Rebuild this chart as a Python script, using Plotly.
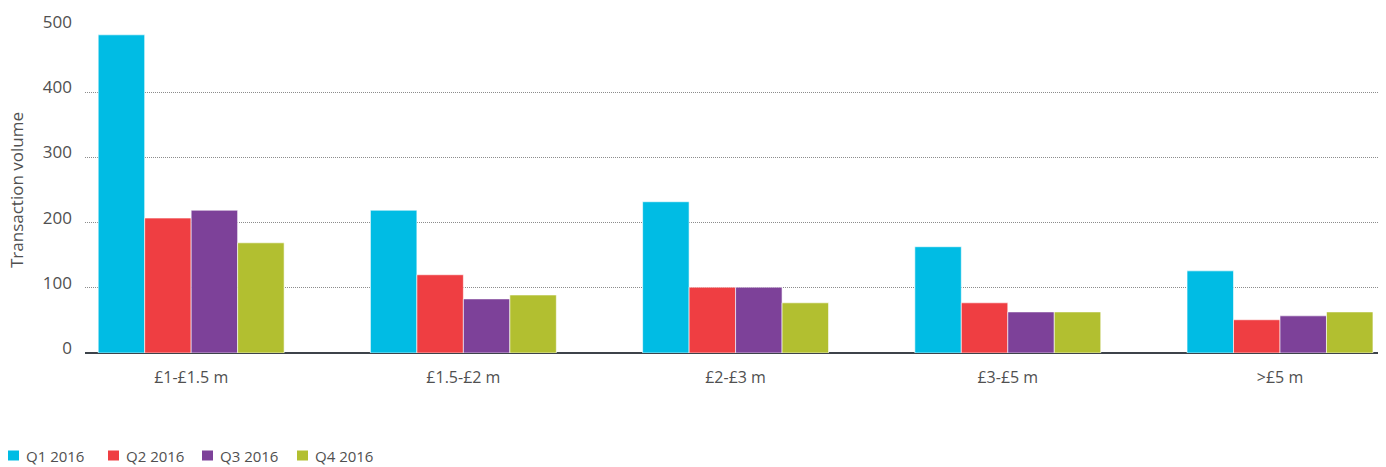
import plotly.graph_objects as go

# Price bands and quarterly transaction volumes
categories = ["£1-£1.5 m", "£1.5-£2 m", "£2-£3 m", "£3-£5 m", ">£5 m"]
q1_2016 = [488, 219, 232, 163, 126]
q2_2016 = [207, 120, 101, 77, 51]
q3_2016 = [219, 83, 101, 63, 57]
q4_2016 = [169, 89, 77, 63, 63]
series_names = ["Q1 2016", "Q2 2016", "Q3 2016", "Q4 2016"]
y_ticks = [0, 100, 200, 300, 400, 500]

colors = ["#00BCE4", "#EF3E42", "#7D4199", "#B2BF30"]
font_family = "Open Sans, Noto Sans, sans-serif"
text_color = "#505050"

W, H = 1386, 467
M_L, M_R, M_T, M_B = 85, 8, 27, 114
plot_w = W - M_L - M_R
plot_h = H - M_T - M_B


def px_to_paper_x(px):
    return (px - M_L) / plot_w


def px_to_paper_y(py):
    return (H - M_B - py) / plot_h


fig = go.Figure()
for name, values, color in zip(series_names, [q1_2016, q2_2016, q3_2016, q4_2016], colors):
    fig.add_trace(go.Bar(
        x=categories,
        y=values,
        name=name,
        showlegend=False,
        marker=dict(color=color, line=dict(color="rgba(255,255,255,0.6)", width=1)),
    ))

# Legend row along the bottom edge: colour swatch followed by the series name
legend_left = [8, 108, 202, 297]
legend_y = 455.5
for left, name, color in zip(legend_left, series_names, colors):
    fig.add_shape(
        type="rect",
        xref="paper", yref="paper",
        x0=px_to_paper_x(left), x1=px_to_paper_x(left + 11),
        y0=px_to_paper_y(legend_y - 5), y1=px_to_paper_y(legend_y + 5),
        fillcolor=color, line=dict(width=0),
    )
    fig.add_annotation(
        xref="paper", yref="paper",
        x=px_to_paper_x(left + 16), y=px_to_paper_y(legend_y),
        xanchor="left", yanchor="middle",
        text=name, showarrow=False,
        font=dict(size=15, color=text_color),
    )

fig.update_layout(
    width=W,
    height=H,
    barmode="group",
    bargap=0.317,
    bargroupgap=0,
    plot_bgcolor="white",
    paper_bgcolor="white",
    margin=dict(l=M_L, r=M_R, t=M_T, b=M_B, autoexpand=False),
    font=dict(family=font_family, size=16, color=text_color),
    showlegend=False,
    xaxis=dict(
        type="category",
        range=[-0.39, 4.36],
        showgrid=False,
        ticks="",
        showline=False,
        tickfont=dict(size=16, color=text_color),
        ticklabelstandoff=13,
    ),
    yaxis=dict(
        range=[0, 500],
        tickvals=y_ticks,
        showgrid=True,
        gridcolor="#8c8c8c",
        gridwidth=1,
        griddash="1px,1px",
        zeroline=True,
        zerolinecolor="#3d434a",
        zerolinewidth=2,
        showline=False,
        ticks="",
        ticklabelstandoff=12,
        ticklabelshift=-5,
        tickfont=dict(size=17, color=text_color),
        title=dict(text="Transaction volume", font=dict(size=17, color=text_color), standoff=14),
    ),
)

fig.write_html("out.html")
